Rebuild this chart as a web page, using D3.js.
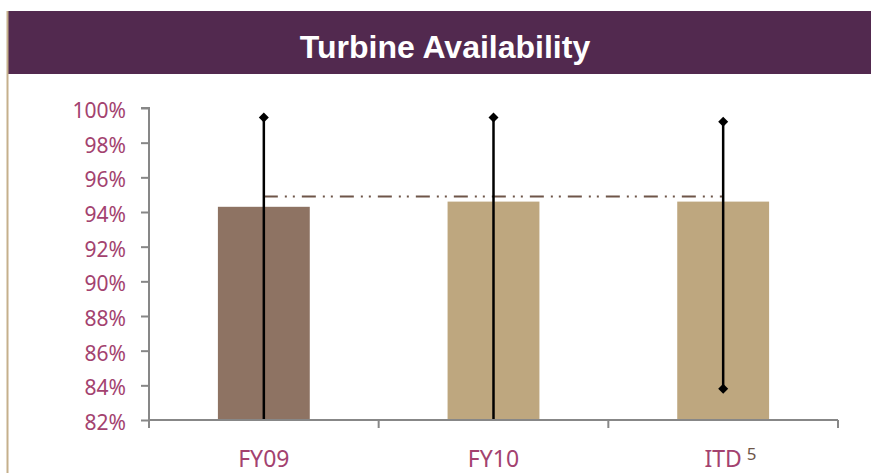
<!DOCTYPE html>
<html><head><meta charset="utf-8">
<script src="https://cdn.jsdelivr.net/npm/d3@7"></script>
<style>html,body{margin:0;padding:0;background:#fff;overflow:hidden}</style>
</head><body>
<svg id="chart" width="871" height="473"></svg>
<script>
const categories = ["FY09", "FY10", "ITD"];
const superscripts = ["", "", "5"];
const values = [94.3, 94.6, 94.6];
const errHigh = [99.45, 99.45, 99.2];
const errLow = [80, 80, 83.8];
const target = 94.9;
const yTicks = [82, 84, 86, 88, 90, 92, 94, 96, 98, 100];
const title = "Turbine Availability";
const barColors = ["#8E7363", "#BEA77F", "#BEA77F"];

const svg = d3.select("#chart");
const W = 871, H = 473;
const m = {left: 149, right: 33, top: 108, bottom: 53};

// left border + title band
svg.append("rect").attr("x", 8).attr("y", 11).attr("width", W - 8).attr("height", 63).attr("fill", "#52294F");
svg.append("rect").attr("x", 6.5).attr("y", 11).attr("width", 2).attr("height", H - 11).attr("fill", "#C5B08C");
svg.append("text").attr("x", 445).attr("y", 58).attr("text-anchor", "middle")
  .attr("fill", "#fff").attr("font-family", "Liberation Sans, Arial, sans-serif")
  .attr("font-weight", "bold").attr("font-size", 32).text(title);

const x = d3.scaleBand().domain(categories).range([m.left, W - m.right]).paddingInner(0).paddingOuter(0);
const y = d3.scaleLinear().domain([82, 100]).range([H - m.bottom, m.top]);

// clip for plot area
svg.append("clipPath").attr("id", "plot").append("rect")
  .attr("x", m.left).attr("y", 0).attr("width", W - m.left - m.right).attr("height", y(82) + 0.5);

// bars
const bw = x.bandwidth() * 0.4;
svg.append("g").selectAll("rect").data(categories).join("rect")
  .attr("x", d => x(d) + x.bandwidth() / 2 - bw / 2)
  .attr("y", (d, i) => y(values[i]))
  .attr("width", bw)
  .attr("height", (d, i) => y(82) - y(values[i]))
  .attr("fill", (d, i) => barColors[i]);

// target line
svg.append("line")
  .attr("x1", x(categories[0]) + x.bandwidth() / 2)
  .attr("x2", x(categories[2]) + x.bandwidth() / 2)
  .attr("y1", y(target)).attr("y2", y(target))
  .attr("stroke", "#6E5548").attr("stroke-width", 2)
  .attr("stroke-dasharray", "14 7 2 6 2 7");

// error bars
const eg = svg.append("g").attr("clip-path", "url(#plot)");
categories.forEach((c, i) => {
  const cx = x(c) + x.bandwidth() / 2;
  eg.append("line").attr("x1", cx).attr("x2", cx)
    .attr("y1", y(errHigh[i])).attr("y2", y(errLow[i]))
    .attr("stroke", "#000").attr("stroke-width", 2.5);
  [errHigh[i], errLow[i]].forEach(v => {
    eg.append("path").attr("d", d3.symbol(d3.symbolSquare, 50)())
      .attr("transform", `translate(${cx},${y(v)}) rotate(45)`)
      .attr("fill", "#000");
  });
});

// axes
const axisColor = "#878787";
const yAxis = svg.append("g").attr("transform", `translate(${m.left},0)`)
  .call(d3.axisLeft(y).tickValues(yTicks).tickSize(8).tickPadding(15).tickFormat(d => d + "%"));
yAxis.select(".domain").attr("d", `M-8,${y(100)}H0V${y(82)}`);
const xAxis = svg.append("g").attr("transform", `translate(0,${y(82)})`);
xAxis.append("path").attr("d", `M${m.left},0H${W - m.right}`);
xAxis.selectAll("line.t").data(categories.map(c => x(c)).concat([W - m.right])).join("line")
  .attr("class", "t").attr("x1", d => d).attr("x2", d => d).attr("y1", 0).attr("y2", 8);
svg.selectAll(".domain, path").filter(function(){return this.parentNode === xAxis.node() || this.parentNode === yAxis.node();})
  .attr("stroke", axisColor).attr("stroke-width", 2).attr("fill", "none");
xAxis.selectAll("line").attr("stroke", axisColor).attr("stroke-width", 2);
yAxis.selectAll(".tick line").attr("stroke", axisColor).attr("stroke-width", 2);
yAxis.selectAll(".tick text").attr("fill", "#A3426F").attr("font-size", 21)
  .attr("font-family", "Noto Sans, sans-serif").attr("dy", "0.45em");

// x labels
const xl = svg.append("g");
categories.forEach((c, i) => {
  const cx = x(c) + x.bandwidth() / 2;
  const t = xl.append("text").attr("x", cx).attr("y", 467).attr("text-anchor", "middle")
    .attr("fill", "#A3426F").attr("font-size", 23).attr("font-family", "Noto Sans, sans-serif").text(c);
  if (superscripts[i]) {
    const w = t.node().getComputedTextLength();
    xl.append("text").attr("x", cx + w / 2 + 5).attr("y", 460)
      .attr("fill", "#6E5548").attr("font-size", 17).attr("font-family", "Noto Sans, sans-serif")
      .text(superscripts[i]);
  }
});
</script>
</body></html>
